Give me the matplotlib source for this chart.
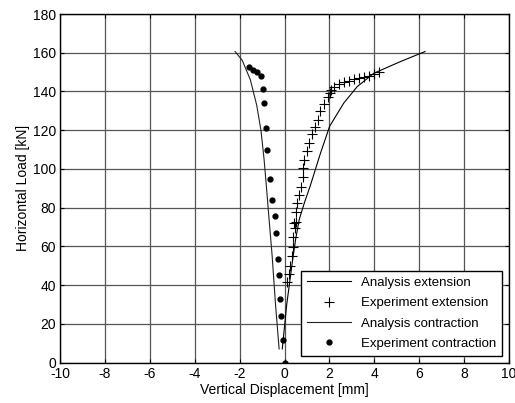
import matplotlib
matplotlib.use("Agg")
import matplotlib.pyplot as plt

plt.rcParams['font.family'] = ['Liberation Sans', 'DejaVu Sans']
plt.rcParams['axes.unicode_minus'] = False

# Analysis extension (right curve)
ana_ext_x = [-0.10, 0.10, 0.35, 0.50, 0.66, 0.90, 1.14, 1.60, 2.01, 2.64, 3.24, 3.98, 5.18, 6.26]
ana_ext_y = [7, 30, 52, 64, 74, 83, 91, 108, 122, 134, 142.5, 149.4, 155.5, 160.6]

# Analysis contraction (left curve)
ana_con_x = [-0.24, -0.40, -0.55, -0.68, -0.80, -0.91, -1.05, -1.24, -1.52, -1.88, -2.20]
ana_con_y = [7, 30, 55, 73, 90, 105, 120, 133, 146, 156, 160.6]

# Experiment extension (+)
exp_ext_x = [0.13, 0.22, 0.25, 0.32, 0.37, 0.39, 0.47, 0.52, 0.44, 0.52, 0.55, 0.66, 0.74,
             0.82, 0.84, 0.89, 1.00, 1.07, 1.22, 1.37, 1.49, 1.56, 1.74, 1.94, 2.01, 2.09,
             2.19, 2.41, 2.64, 2.86, 3.09, 3.31, 3.53, 3.76, 3.98, 4.20]
exp_ext_y = [41.8, 45.6, 49.9, 55.0, 59.8, 65.0, 69.3, 72.8, 72.2, 77.9, 82.6, 86.6, 90.9,
             95.7, 100.4, 104.7, 109.3, 113.3, 117.9, 121.5, 125.3, 130.1, 133.6, 137.0, 139.1, 140.5,
             142.5, 143.9, 144.8, 145.6, 146.4, 147.2, 147.7, 148.0, 149.0, 150.3]

# Experiment contraction (dots)
exp_con_x = [0.02, -0.07, -0.16, -0.19, -0.26, -0.30, -0.38, -0.44, -0.55, -0.64, -0.77,
             -0.82, -0.90, -0.96, -1.06, -1.24, -1.42, -1.57]
exp_con_y = [0, 11.6, 23.9, 32.8, 45.2, 53.6, 66.8, 75.9, 84.1, 95.0, 109.5,
             121.0, 134.0, 141.2, 148.0, 149.8, 151.0, 152.5]

fig = plt.figure(figsize=(5.15, 4.03), dpi=100)
ax = fig.add_axes([60/515, 40.5/403, 449/515, 348.5/403])

ax.plot(ana_ext_x, ana_ext_y, color='black', lw=0.8, label='Analysis extension')
ax.plot(exp_ext_x, exp_ext_y, linestyle='none', marker='+', color='black', ms=6.5, mew=0.8,
        label='Experiment extension')
ax.plot(ana_con_x, ana_con_y, color='#222222', lw=0.8, label='Analysis contraction')
ax.plot(exp_con_x, exp_con_y, linestyle='none', marker='o', color='black', ms=3.5,
        label='Experiment contraction')

ax.set_xlim(-10, 10)
ax.set_ylim(0, 180)
ax.set_xticks(range(-10, 11, 2))
ax.set_yticks(range(0, 181, 20))
ax.grid(True, color='#555555', lw=0.9)
ax.tick_params(direction='in', length=3, labelsize=10, width=0.8,
               top=True, right=True, pad=3)
for s in ax.spines.values():
    s.set_linewidth(1.0)
ax.set_xlabel('Vertical Displacement [mm]', fontsize=10, labelpad=2)
ax.set_ylabel('Horizontal Load [kN]', fontsize=10, labelpad=2)

leg = ax.legend(loc='lower right', fontsize=9.5, frameon=True, fancybox=False,
                edgecolor='black', framealpha=1, borderaxespad=0.5,
                handlelength=3.3, labelspacing=0.62, borderpad=0.45)
leg.get_frame().set_linewidth(1.0)

fig.savefig('out.png', dpi=100)
